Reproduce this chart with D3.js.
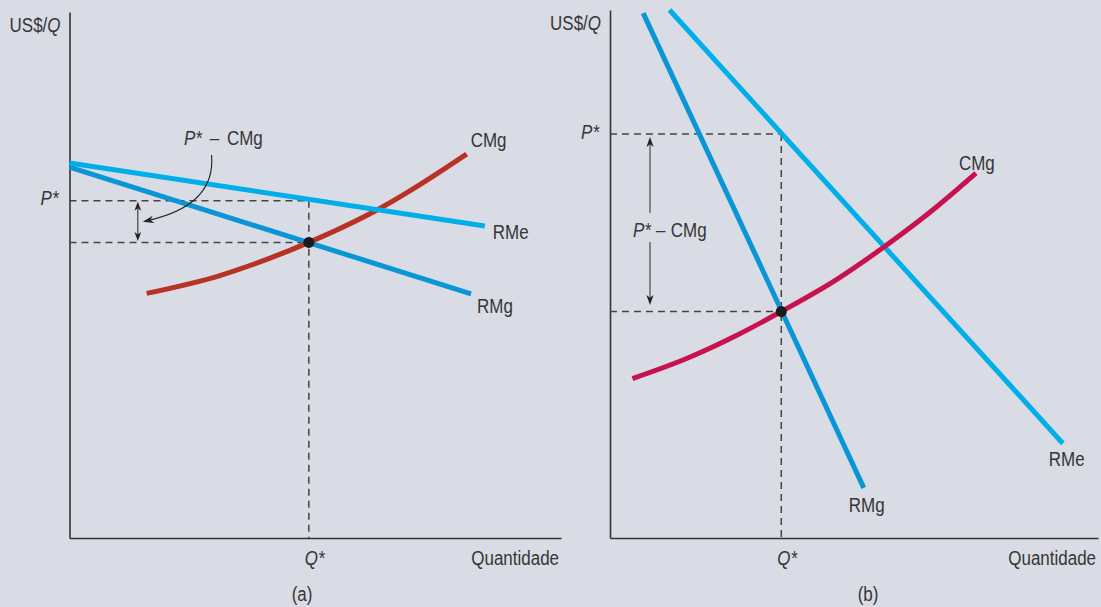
<!DOCTYPE html>
<html>
<head>
<meta charset="utf-8">
<script src="https://cdn.jsdelivr.net/npm/d3@7"></script>
<style>
  html, body { margin: 0; padding: 0; background: #d9dce4; }
  svg { display: block; }
  text {
    font-family: "Liberation Sans", Arial, sans-serif;
    font-size: 19.5px;
    fill: #363636;
  }
  .it { font-style: italic; }
</style>
</head>
<body>
<svg id="chart" width="1101" height="607"></svg>
<script>
// ---- Panel (a): demand is elastic, small markup ----
const rmeA = [[0, 71.3], [84.5, 59.3]];
const rmgA = [[0, 70.5], [81.7, 46.4]];
const cmgA = [[15.7, 46.5], [30.6, 49.9], [40.8, 53.2], [48.7, 56.2], [63.2, 62.7], [71.3, 67.2], [80.8, 73.0]];
const qStarA = 48.7, pStarA = 64.1, cStarA = 56.2;
// curved pointer from the "P* – CMg" note to the gap
const pointerA = [[28.9, 72.8], [29.8, 63.3], [14.9, 60.1]];
const gapArrowXA = 13.9;

// ---- Panel (b): demand is inelastic, large markup ----
const rmeB = [[12.2, 100], [92.8, 17.9]];
const rmgB = [[6.8, 99.4], [52.0, 9.5]];
const cmgB = [[4.6, 30.2], [15.7, 34.0], [26.0, 38.4], [35.1, 42.9], [46.5, 49.0], [56.7, 55.5], [66.9, 62.7], [75.0, 69.1]];
const qStarB = 35.1, pStarB = 76.5, cStarB = 42.9;
const gapArrowXB = 8.2;

const colors = {
  rme: "#00aeea",
  rmg: "#0a96d6",
  cmgA: "#b83326",
  cmgB: "#c8124e",
  ink: "#333333",
  dash: "#444444"
};

const svg = d3.select("#chart");
const lineGen = d3.line().curve(d3.curveMonotoneX);
const narrow = 0.87; // condensed lettering

// condensed text: draw at the origin of a horizontally squeezed group
function label(g, x, y, anchor = "start") {
  return g.append("text")
    .attr("transform", `translate(${x},${y}) scale(${narrow},1)`)
    .attr("text-anchor", anchor);
}

function arrowHead(g, tip, from, len = 10, half = 3.6) {
  const dx = tip[0] - from[0], dy = tip[1] - from[1];
  const d = Math.hypot(dx, dy);
  const ux = dx / d, uy = dy / d, nx = -uy, ny = ux;
  const bx = tip[0] - ux * len, by = tip[1] - uy * len;
  const ix = tip[0] - ux * len * 0.72, iy = tip[1] - uy * len * 0.72;
  g.append("path")
    .attr("d", `M${tip[0]},${tip[1]}L${bx + nx * half},${by + ny * half}L${ix},${iy}L${bx - nx * half},${by - ny * half}Z`)
    .attr("fill", "#222");
}

function panel(cfg) {
  const x = d3.scaleLinear().domain([0, 100]).range(cfg.xr);
  const y = d3.scaleLinear().domain([0, 100]).range(cfg.yr);
  const g = svg.append("g");

  // axes: bare lines, no ticks
  const ax = g.append("g").attr("transform", `translate(0,${cfg.yr[0]})`)
    .call(d3.axisBottom(x).tickValues([]).tickSizeOuter(0));
  const ay = g.append("g").attr("transform", `translate(${cfg.xr[0]},0)`)
    .call(d3.axisLeft(y).tickValues([]).tickSizeOuter(0));
  [ax, ay].forEach(a => a.select(".domain").attr("stroke", colors.ink).attr("stroke-width", 1.6));

  // dashed guides for P*, CMg at Q*, and Q*
  const dash = g.append("g").attr("stroke", colors.dash).attr("stroke-width", 1.5)
    .attr("stroke-dasharray", "7,5").attr("fill", "none");
  dash.append("line").attr("x1", x(0)).attr("x2", x(cfg.q)).attr("y1", y(cfg.p)).attr("y2", y(cfg.p));
  dash.append("line").attr("x1", x(0)).attr("x2", x(cfg.q)).attr("y1", y(cfg.c)).attr("y2", y(cfg.c));
  dash.append("line").attr("x1", x(cfg.q)).attr("x2", x(cfg.q)).attr("y1", y(cfg.p)).attr("y2", y(0));

  const pts = arr => arr.map(d => [x(d[0]), y(d[1])]);
  const drawCurve = (arr, color) => g.append("path")
    .attr("d", lineGen(pts(arr)))
    .attr("fill", "none").attr("stroke", color).attr("stroke-width", 5);

  cfg.order.forEach(k => {
    if (k === "rmg") drawCurve(cfg.rmg, colors.rmg);
    if (k === "rme") drawCurve(cfg.rme, colors.rme);
    if (k === "cmg") drawCurve(cfg.cmg, cfg.cmgColor);
  });

  // profit-maximising point
  g.append("circle").attr("cx", x(cfg.q)).attr("cy", y(cfg.c)).attr("r", 5.5).attr("fill", "#1a1a1a");

  // axis texts
  const yl = label(g, x(0) - 9, cfg.yr[1] + 19.5, "end");
  yl.append("tspan").text("US$/");
  yl.append("tspan").attr("class", "it").text("Q");

  label(g, x(0) - 11, y(cfg.p) + 4.5, "end").attr("class", "it").text("P*");
  label(g, x(cfg.q) - 4, 565).attr("class", "it").text("Q*");
  label(g, cfg.xr[1] - 2, 565, "end").text("Quantidade");
  label(g, cfg.captionX, 601, "middle").text(cfg.caption);

  // curve labels
  const endOf = arr => pts(arr)[arr.length - 1];
  const lab = (txt, p, d) => label(g, p[0] + d[0], p[1] + d[1]).text(txt);
  lab("CMg", endOf(cfg.cmg), cfg.cmgLab);
  lab("RMe", endOf(cfg.rme), cfg.rmeLab);
  lab("RMg", endOf(cfg.rmg), cfg.rmgLab);

  const note = (px, py, gap) => {
    const t = label(g, px, py);
    t.append("tspan").attr("class", "it").text("P*");
    t.append("tspan").attr("dx", gap).text("\u2013");
    t.append("tspan").attr("dx", gap).text("CMg");
    return t;
  };

  return { g, x, y, note };
}

// Panel (a)
const A = panel({
  xr: [69.5, 561], yr: [538, 12],
  rme: rmeA, rmg: rmgA, cmg: cmgA, cmgColor: colors.cmgA,
  q: qStarA, p: pStarA, c: cStarA,
  order: ["rmg", "cmg", "rme"],
  caption: "(a)", captionX: 302,
  cmgLab: [4, -7], rmeLab: [8, 13], rmgLab: [6, 19]
});
A.note(184, 145, 9);
{
  const g = A.g, x = A.x, y = A.y;
  const p = pointerA.map(d => [x(d[0]), y(d[1])]);
  g.append("path")
    .attr("d", `M${p[0][0]},${p[0][1]}Q${p[1][0]},${p[1][1]} ${p[2][0] + 6},${p[2][1] - 1.5}`)
    .attr("fill", "none").attr("stroke", "#222").attr("stroke-width", 1.1);
  arrowHead(g, p[2], p[1], 11, 3.8);
  // double-headed gap arrow
  const gx = x(gapArrowXA), t = y(pStarA) + 1, b = y(cStarA) - 1.5;
  g.append("line").attr("x1", gx).attr("x2", gx).attr("y1", t + 6).attr("y2", b - 6)
    .attr("stroke", "#333").attr("stroke-width", 1.1);
  arrowHead(g, [gx, t], [gx, b], 9, 3.4);
  arrowHead(g, [gx, b], [gx, t], 9, 3.4);
}

// Panel (b)
const B = panel({
  xr: [610, 1098], yr: [538, 10],
  rme: rmeB, rmg: rmgB, cmg: cmgB, cmgColor: colors.cmgB,
  q: qStarB, p: pStarB, c: cStarB,
  order: ["rmg", "rme", "cmg"],
  caption: "(b)", captionX: 868,
  cmgLab: [-17, -3], rmeLab: [-14, 23], rmgLab: [-15, 24]
});
B.note(633, 237, 6);
{
  const g = B.g, x = B.x, y = B.y;
  const gx = x(gapArrowXB), t = y(pStarB) + 3, b = y(cStarB) - 6.5;
  g.append("line").attr("x1", gx).attr("x2", gx).attr("y1", t + 6).attr("y2", 213)
    .attr("stroke", "#555").attr("stroke-width", 1.3);
  g.append("line").attr("x1", gx).attr("x2", gx).attr("y1", 242).attr("y2", b - 6)
    .attr("stroke", "#555").attr("stroke-width", 1.3);
  arrowHead(g, [gx, t], [gx, b], 10, 3.6);
  arrowHead(g, [gx, b], [gx, t], 10, 3.6);
}
</script>
</body>
</html>
